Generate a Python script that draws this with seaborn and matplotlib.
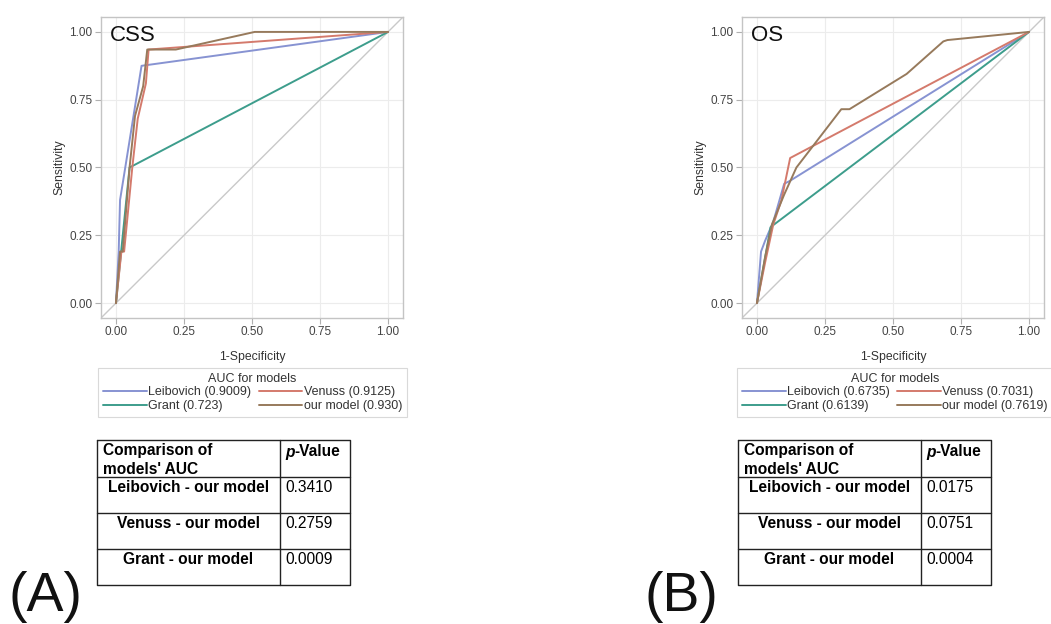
import numpy as np
import pandas as pd
import matplotlib
matplotlib.use("Agg")
import matplotlib.pyplot as plt
import seaborn as sns

# ---------------- data ----------------
models = ["Leibovich", "Grant", "Venuss", "our model"]

css_auc = ["0.9009", "0.723", "0.9125", "0.930"]
css_leibovich_x = [0, 0.01, 0.015, 0.094, 1.0]
css_leibovich_y = [0, 0.19, 0.38, 0.875, 1.0]
css_grant_x = [0, 0.05, 1.0]
css_grant_y = [0, 0.50, 1.0]
css_venuss_x = [0, 0.02, 0.03, 0.06, 0.08, 0.11, 0.12, 1.0]
css_venuss_y = [0, 0.19, 0.19, 0.50, 0.68, 0.81, 0.935, 1.0]
css_our_x = [0, 0.015, 0.025, 0.05, 0.07, 0.10, 0.115, 0.22, 0.51, 1.0]
css_our_y = [0, 0.19, 0.19, 0.50, 0.69, 0.80, 0.935, 0.935, 1.0, 1.0]

os_auc = ["0.6735", "0.6139", "0.7031", "0.7619"]
os_leibovich_x = [0, 0.015, 0.03, 0.06, 0.10, 0.12, 1.0]
os_leibovich_y = [0, 0.19, 0.23, 0.30, 0.44, 0.45, 1.0]
os_grant_x = [0, 0.05, 1.0]
os_grant_y = [0, 0.28, 1.0]
os_venuss_x = [0, 0.03, 0.06, 0.09, 0.122, 1.0]
os_venuss_y = [0, 0.15, 0.29, 0.38, 0.535, 1.0]
os_our_x = [0, 0.03, 0.055, 0.10, 0.145, 0.195, 0.31, 0.34, 0.55, 0.685, 0.70, 1.0]
os_our_y = [0, 0.17, 0.29, 0.40, 0.50, 0.565, 0.715, 0.715, 0.845, 0.965, 0.97, 1.0]

comparisons = ["Leibovich - our model", "Venuss - our model", "Grant - our model"]
css_pvalues = ["0.3410", "0.2759", "0.0009"]
os_pvalues = ["0.0175", "0.0751", "0.0004"]

ticks = [0.0, 0.25, 0.5, 0.75, 1.0]
tick_labels = ["0.00", "0.25", "0.50", "0.75", "1.00"]

colors = ["#8793d2", "#3d9d8c", "#d47a6c", "#977a5c"]

# ---------------- style ----------------
sns.set_theme(style="whitegrid")
plt.rcParams["font.family"] = ["Liberation Sans", "DejaVu Sans"]

W, H = 1051, 624
fig = plt.figure(figsize=(W / 100, H / 100), dpi=100)
fig.patch.set_facecolor("white")


def fx(px):
    return px / W


def fy(py):
    return 1 - py / H


def make_df(xs, ys, aucs):
    rows = []
    for m, x, y, a in zip(models, xs, ys, aucs):
        lab = f"{m} ({a})"
        for i, (xi, yi) in enumerate(zip(x, y)):
            rows.append({"model": lab, "x": xi, "y": yi, "order": i})
    return pd.DataFrame(rows)


def roc_panel(left_px, xs, ys, aucs, title, leg_left_px):
    ax = fig.add_axes([fx(left_px), fy(318), fx(302), 301 / H])
    df = make_df(xs, ys, aucs)
    hue_order = [f"{m} ({a})" for m, a in zip(models, aucs)]
    ax.axline((0, 0), (1, 1), color="#c9c9c9", lw=1.0, zorder=1)
    sns.lineplot(data=df, x="x", y="y", hue="model", hue_order=hue_order,
                 palette=colors, sort=False, estimator=None, units="model",
                 lw=1.4, ax=ax, zorder=3)
    ax.set_xlim(-0.055, 1.055)
    ax.set_ylim(-0.055, 1.055)
    ax.set_xticks(ticks)
    ax.set_xticklabels(tick_labels)
    ax.set_yticks(ticks)
    ax.set_yticklabels(tick_labels)
    ax.grid(True, color="#ececec", lw=0.8)
    ax.set_facecolor("white")
    for s in ax.spines.values():
        s.set_color("#c4c4c4")
        s.set_linewidth(1.0)
    ax.tick_params(axis="both", which="both", length=4, width=0.8,
                   color="#b0b0b0", labelsize=8.5, labelcolor="#444444",
                   pad=2, bottom=True, left=True)
    ax.set_xlabel("1-Specificity", fontsize=8.8, color="#333333", labelpad=9)
    ax.set_ylabel("Sensitivity", fontsize=8.8, color="#333333", labelpad=3)
    ax.text(0.03, 0.975, title, transform=ax.transAxes, ha="left", va="top",
            fontsize=16, color="#111111")
    handles, labels = ax.get_legend_handles_labels()
    if ax.get_legend() is not None:
        ax.get_legend().remove()
    leg = ax.legend(handles, labels, ncol=2, title="AUC for models",
                    loc="upper left",
                    bbox_to_anchor=(fx(leg_left_px), fy(368)),
                    bbox_transform=fig.transFigure,
                    fontsize=9, title_fontsize=9, frameon=True, fancybox=False,
                    borderpad=0.4, labelspacing=0.12, handlelength=3.5,
                    handletextpad=0.1, columnspacing=0.6, borderaxespad=0)
    leg.get_frame().set_edgecolor("#d0d0d0")
    leg.get_frame().set_linewidth(0.8)
    for t in leg.get_texts():
        t.set_color("#333333")
    leg.get_title().set_color("#333333")
    return ax


def table_panel(left_px, pvalues):
    tw, th = 253, 145
    ax = fig.add_axes([fx(left_px), fy(585), tw / W, th / H])
    ax.set_xlim(0, tw)
    ax.set_ylim(th, 0)
    ax.axis("off")
    kw = dict(color="#222222", lw=1.0, clip_on=False)
    ax.plot([0, tw, tw, 0, 0], [0, 0, th, th, 0], **kw)
    for yl in [37, 73, 109]:
        ax.plot([0, tw], [yl, yl], **kw)
    ax.plot([183, 183], [0, th], **kw)
    fs = 11.2
    ax.text(6, 11, "Comparison of", ha="left", va="center", fontsize=fs,
            fontweight="bold", color="black")
    ax.text(6, 29, "models' AUC", ha="left", va="center", fontsize=fs,
            fontweight="bold", color="black")
    tp = ax.text(188, 12, "p", ha="left", va="center", fontsize=fs,
                 fontweight="bold", fontstyle="italic", color="black")
    ax.annotate("-Value", xy=(1, 0), xycoords=tp, ha="left", va="bottom",
                fontsize=fs, fontweight="bold", color="black")
    for i, (c, p) in enumerate(zip(comparisons, pvalues)):
        yc = 48 + 36 * i
        ax.text(91.5, yc, c, ha="center", va="center", fontsize=fs,
                fontweight="bold", color="black")
        ax.text(188, yc, p, ha="left", va="center", fontsize=fs,
                color="black")


roc_panel(101, [css_leibovich_x, css_grant_x, css_venuss_x, css_our_x],
          [css_leibovich_y, css_grant_y, css_venuss_y, css_our_y],
          css_auc, "CSS", 98)
roc_panel(742, [os_leibovich_x, os_grant_x, os_venuss_x, os_our_x],
          [os_leibovich_y, os_grant_y, os_venuss_y, os_our_y],
          os_auc, "OS", 737)

table_panel(97, css_pvalues)
table_panel(738, os_pvalues)

fig.text(fx(8), fy(611), "(A)", fontsize=40, ha="left", va="baseline",
         color="#111111")
fig.text(fx(644), fy(611), "(B)", fontsize=40, ha="left", va="baseline",
         color="#111111")

fig.savefig("out.png", dpi=100, facecolor="white")
